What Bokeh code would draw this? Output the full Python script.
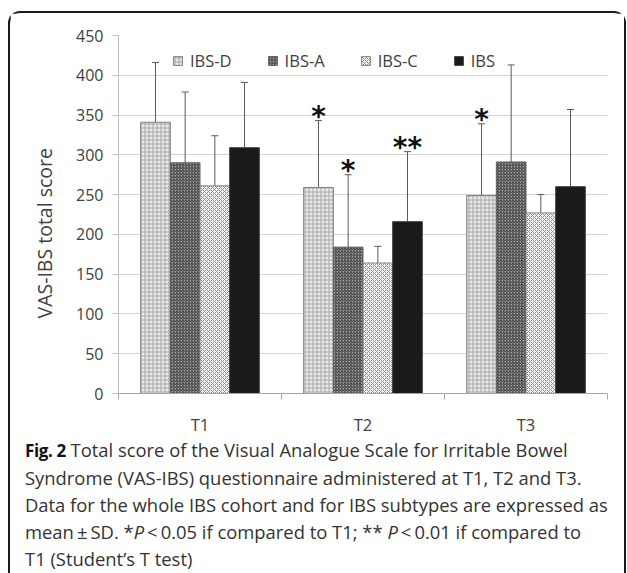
from bokeh.plotting import figure
from bokeh.layouts import column
from bokeh.models import (Range1d, FixedTicker, Whisker, TeeHead, ColumnDataSource,
                          Legend, LegendItem, Title, Div)
from bokeh.embed import file_html
from bokeh.resources import INLINE
from bokeh.core.properties import value

# ---------------- data ----------------
timepoints = ["T1", "T2", "T3"]
series = ["IBS-D", "IBS-A", "IBS-C", "IBS"]
mean_D = [341, 259, 249]
sd_D = [75, 84, 90]
mean_A = [290, 184, 291]
sd_A = [89, 91, 122]
mean_C = [261, 164, 227]
sd_C = [63, 21, 23]
mean_IBS = [309, 216, 260]
sd_IBS = [82, 88, 97]
sig_D = ["", "*", "*"]
sig_A = ["", "*", ""]
sig_C = ["", "", ""]
sig_IBS = ["", "**", ""]
y_ticks = [0, 50, 100, 150, 200, 250, 300, 350, 400, 450]
y_title = "VAS-IBS total score"
caption_lines = [
    "<b style='color:#111; font-size:17px; letter-spacing:-0.4px'>Fig. 2</b> Total score of the Visual Analogue Scale for Irritable Bowel",
    "Syndrome (VAS-IBS) questionnaire administered at T1, T2 and T3.",
    "Data for the whole IBS cohort and for IBS subtypes are expressed as",
    "mean\u2009\u00b1\u2009SD. *<i>P</i>\u2009&lt;\u20090.05 if compared to T1; ** <i>P</i>\u2009&lt;\u20090.01 if compared to",
    "T1 (Student\u2019s T test)",
]

FONT = "Open Sans"
TXT = "#404040"
W = 614
OVER = 20  # caption overlaps the empty bottom border of the chart

p = figure(width=W, height=417 + OVER, output_backend="svg", toolbar_location=None,
           x_range=Range1d(0, 3), y_range=Range1d(0, 450),
           min_border_left=108, min_border_right=W - 597, min_border_top=22,
           min_border_bottom=37 + OVER, outline_line_color=None)

# axes
p.yaxis.ticker = FixedTicker(ticks=y_ticks)
p.yaxis.major_tick_out = 6
p.yaxis.major_tick_in = 0
p.yaxis.minor_tick_line_color = None
p.yaxis.major_tick_line_color = "#bfbfbf"
p.yaxis.axis_line_color = "#bfbfbf"
p.yaxis.major_label_standoff = 9
p.yaxis.major_label_text_font = FONT
p.yaxis.major_label_text_font_size = "16px"
p.yaxis.major_label_text_color = TXT

centers = [i + 0.5 for i in range(len(timepoints))]
p.xaxis.ticker = FixedTicker(ticks=centers, minor_ticks=[0, 1, 2, 3])
p.xaxis.major_label_overrides = {c: t for c, t in zip(centers, timepoints)}
p.xaxis.major_tick_line_color = None
p.xaxis.major_tick_out = 0
p.xaxis.minor_tick_out = 6
p.xaxis.minor_tick_in = 0
p.xaxis.minor_tick_line_color = "#a6a6a6"
p.xaxis.axis_line_color = "#a6a6a6"
p.xaxis.major_label_standoff = 13
p.xaxis.major_label_text_font = FONT
p.xaxis.major_label_text_font_size = "16.5px"
p.xaxis.major_label_text_color = TXT

p.xgrid.grid_line_color = None
p.ygrid.grid_line_color = "#d4d4d4"
p.ygrid.ticker = FixedTicker(ticks=y_ticks)

p.add_layout(Title(text=y_title, align="left", offset=75, standoff=31,
                   text_font=FONT, text_font_size="19.5px", text_font_style="normal",
                   text_color=TXT), "left")

# bars
width = 0.182
offsets = [-0.273, -0.091, 0.091, 0.273]
means = [mean_D, mean_A, mean_C, mean_IBS]
sds = [sd_D, sd_A, sd_C, sd_IBS]
sigs = [sig_D, sig_A, sig_C, sig_IBS]
bar_styles = [
    dict(fill_color="#eaeaea", hatch_pattern="+", hatch_color="#a8a8a8", hatch_scale=4, hatch_weight=1, line_color="#808080"),
    dict(fill_color="#a0a0a0", hatch_pattern="/", hatch_color="#353535", hatch_scale=3, hatch_weight=1, line_color="#606060"),
    dict(fill_color="#f4f4f4", hatch_pattern="x", hatch_color="#8c8c8c", hatch_scale=4, hatch_weight=1, line_color="#808080"),
    dict(fill_color="#1a1a1a", line_color="#404040"),
]

items = []
for name, m, s, sg, off, st in zip(series, means, sds, sigs, offsets, bar_styles):
    src = ColumnDataSource(dict(
        x=[c + off for c in centers], top=m,
        lo=m, hi=[a + b for a, b in zip(m, s)], sig=sg))
    r = p.vbar(x="x", top="top", bottom=0, width=width, source=src, line_width=1, **st)
    items.append(LegendItem(label=name, renderers=[r]))
    w = Whisker(source=src, base="x", lower="lo", upper="hi", line_color="#5a5a5a",
                line_width=1, lower_head=None,
                upper_head=TeeHead(size=7, line_color="#5a5a5a", line_width=1))
    p.add_layout(w)
    p.text(x="x", y="hi", text="sig", source=src, text_align="center",
           text_baseline="bottom", y_offset=12, text_font=value("DejaVu Sans"),
           text_font_style="bold", text_font_size="28px", text_color="#111111")

legend = Legend(items=items, orientation="horizontal", location=(54, 321),
                padding=0, margin=0, spacing=35, glyph_width=11, glyph_height=11,
                label_standoff=7, label_text_font=FONT, label_text_font_size="16.5px",
                label_text_color=TXT, background_fill_alpha=0, border_line_color=None)
p.add_layout(legend)

# ---------------- caption ----------------
cap_html = ("<div style=\"font-family:'Open Sans'; font-size:18.4px; line-height:27px; "
            "color:#333333; padding:6px 0 0 15px; margin:0; white-space:nowrap;\">"
            + "<br>".join(caption_lines) + "</div>")
cap = Div(text=cap_html, width=W, height=143, margin=(-OVER, 0, 0, 0))

layout = column(p, cap, spacing=0)
layout.styles = {"border-top": "2px solid #1a1a1a", "border-left": "2px solid #1a1a1a",
                 "border-right": "2px solid #1a1a1a",
                 "border-top-left-radius": "12px", "border-top-right-radius": "12px",
                 "margin-left": "8px", "margin-top": "11px", "margin-bottom": "-4px"}

open("out.html", "w").write(file_html(layout, INLINE))
